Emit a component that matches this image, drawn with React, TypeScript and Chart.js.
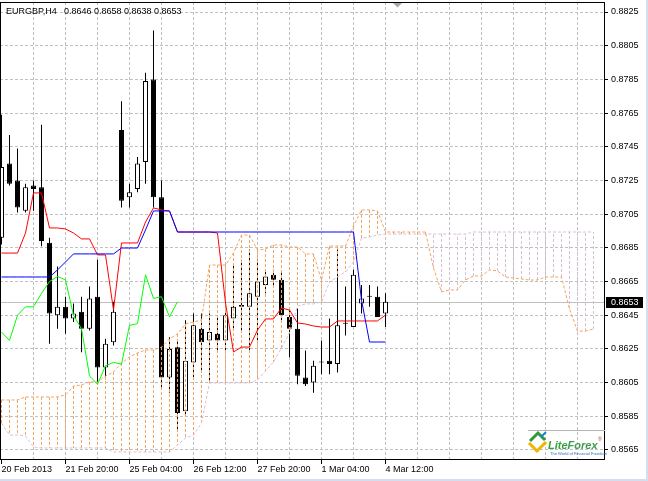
import React, { useEffect, useRef } from 'react';
import { Chart, registerables } from 'chart.js';

Chart.register(...registerables);

const symbol = 'EURGBP';
const period = 'H4';

// Candles, bar index 0 = 20 Feb 2013 12:00 (H4)
const opens = [0.8691,0.8735,0.8725,0.8707,0.8722,0.8721,0.8688,0.8645,0.8650,0.8643,0.8647,0.8637,0.8656,0.8614,0.8629,0.8755,0.8715,0.8720,0.8736,0.8785,0.8715,0.8608,0.8626,0.8588,0.8617,0.8637,0.8630,0.8634,0.8630,0.8643,0.8651,0.8650,0.8656,0.8663,0.8669,0.8666,0.8644,0.8637,0.8608,0.8605,0.8617,0.8618,0.8616,0.8640,0.8638,0.8652,0.8656,0.8656,0.8646];
const highs = [0.8764,0.8752,0.8744,0.8723,0.8725,0.8758,0.8691,0.8674,0.8656,0.8652,0.8656,0.8662,0.8678,0.8631,0.8653,0.8772,0.8723,0.8739,0.8789,0.8814,0.8725,0.8632,0.8630,0.8642,0.8646,0.8646,0.8646,0.8645,0.8647,0.8675,0.8678,0.8684,0.8678,0.8672,0.8672,0.8671,0.8649,0.8649,0.8624,0.8618,0.8630,0.8643,0.8684,0.8662,0.8672,0.8663,0.8663,0.8662,0.8658];
const lows = [0.8687,0.8722,0.8706,0.8706,0.8707,0.8686,0.8628,0.8637,0.8634,0.8641,0.8623,0.8636,0.8604,0.8607,0.8627,0.8709,0.8709,0.8718,0.8723,0.8709,0.8601,0.8599,0.8576,0.8585,0.8607,0.8611,0.8605,0.8624,0.8624,0.8636,0.8636,0.8623,0.8630,0.8658,0.8662,0.8642,0.8620,0.8604,0.8603,0.8599,0.8610,0.8610,0.8611,0.8633,0.8638,0.8646,0.8650,0.8644,0.8638];
const closes = [0.8733,0.8723,0.8709,0.8721,0.8720,0.8689,0.8646,0.8650,0.8643,0.8646,0.8637,0.8655,0.8614,0.8628,0.8647,0.8713,0.8718,0.8735,0.8784,0.8715,0.8608,0.8625,0.8587,0.8618,0.8639,0.8629,0.8635,0.8630,0.8645,0.8650,0.8650,0.8658,0.8665,0.8668,0.8666,0.8645,0.8637,0.8609,0.8604,0.8615,0.8617,0.8616,0.8639,0.8640,0.8669,0.8655,0.8656,0.8644,0.8653];

// Ichimoku lines
const tenkan = [0.86819,0.86819,0.86819,0.86938,0.87176,0.87176,0.86968,0.86968,0.86962,0.86938,0.86903,0.86903,0.86808,0.86808,0.86481,0.86879,0.86879,0.86879,0.87003,0.87087,0.87075,0.87069,0.86944,0.86944,0.86944,0.86944,0.86944,0.86938,0.86523,0.86232,0.86261,0.86261,0.86362,0.86428,0.86428,0.86493,0.86481,0.86404,0.86398,0.86386,0.86380,0.86380,0.86416,0.86416,0.86416,0.86416,0.86416,0.86416,0.86451];
const kijun = [0.86677,0.86677,0.86677,0.86677,0.86677,0.86677,0.86677,0.86719,0.86766,0.86814,0.86814,0.86814,0.86814,0.86814,0.86814,0.86849,0.86849,0.86849,0.86956,0.87069,0.87069,0.87069,0.86944,0.86944,0.86944,0.86944,0.86944,0.86944,0.86944,0.86944,0.86944,0.86944,0.86944,0.86944,0.86944,0.86944,0.86944,0.86944,0.86944,0.86944,0.86944,0.86944,0.86944,0.86944,0.86944,0.86540,0.86291,0.86291,0.86291];
const chikou = [0.8635,0.8630,0.8645,0.8650,0.8650,0.8658,0.8665,0.8668,0.8666,0.8645,0.8637,0.8609,0.8604,0.8615,0.8617,0.8616,0.8639,0.8640,0.8669,0.8655,0.8656,0.8644,0.8653];
const senkouA = [0.85947,0.85947,0.85947,0.85965,0.85965,0.85965,0.85965,0.85965,0.85977,0.86030,0.86036,0.86054,0.86054,0.86089,0.86113,0.86166,0.86202,0.86226,0.86244,0.86244,0.86261,0.86309,0.86339,0.86398,0.86410,0.86422,
  0.86748,0.86748,0.86748,0.86819,0.86926,0.86926,0.86837,0.86843,0.86867,0.86867,0.86855,0.86855,0.86814,0.86814,0.86659,0.86861,0.86861,0.86861,0.86980,0.87075,0.87075,0.87069,0.86944,0.86944,0.86944,0.86944,0.86944,0.86944,0.86730,0.86588,0.86600,0.86600,0.86659,0.86683,0.86683,0.86719,0.86713,0.86677,0.86671,0.86665,0.86659,0.86659,0.86677,0.86677,0.86677,0.86487,0.86356,0.86356,0.86368];
const senkouB = [0.85810,0.85739,0.85739,0.85733,0.85668,0.85662,0.85662,0.85662,0.85662,0.85662,0.85662,0.85662,0.85662,0.85662,0.85638,0.85638,0.85638,0.85638,0.85638,0.85638,0.85638,0.85638,0.85680,0.85721,0.85739,0.85810,
  0.86048,0.86048,0.86048,0.86048,0.86048,0.86048,0.86066,0.86119,0.86172,0.86256,0.86345,0.86505,0.86517,0.86517,0.86529,0.86647,0.86677,0.86707,0.86766,0.86908,0.86914,0.86926,0.86932,
  0.86932,0.86932,0.86932,0.86932,0.86932,0.86932,0.86932,0.86932,0.86932,0.86932,
  0.86944,0.86944,0.86944,0.86944,0.86944,0.86944,0.86944,0.86944,0.86944,0.86944,0.86944,0.86944,0.86944,0.86944,0.86944,0.86944];

// Axes
const dateTickBars = [0, 8, 16, 24, 32, 40, 48];
const dateTickLabels = ['20 Feb 2013', '21 Feb 20:00', '25 Feb 04:00', '26 Feb 12:00', '27 Feb 20:00', '1 Mar 04:00', '4 Mar 12:00'];
const gridBars = [0, 4, 8, 12, 16, 20, 24, 28, 32, 36, 40, 44, 48, 52, 56, 60, 64, 68, 72];
const priceTicks = [0.8565, 0.8585, 0.8605, 0.8625, 0.8645, 0.8665, 0.8685, 0.8705, 0.8725, 0.8745, 0.8765, 0.8785, 0.8805, 0.8825];

const X_MIN = -0.1875;
const X_MAX = 75.4375;
const Y_MIN = 0.855906;
const Y_MAX = 0.883094;

const FONT = '"Liberation Sans", Arial, sans-serif';

export default function App() {
  const ref = useRef<HTMLCanvasElement>(null);

  useEffect(() => {
    const canvas = ref.current;
    if (!canvas) return;
    const last = closes.length - 1;
    const bid = closes[last];

    const wickData = highs.map((h, i) => ({ x: i, y: [lows[i], h] }));
    const bodyData = opens.map((o, i) => ({ x: i, y: [o, closes[i]] }));
    const bodyFill = opens.map((o, i) => (closes[i] > o ? '#ffffff' : '#000000'));
    const pts = (arr: number[]) => arr.map((v, i) => ({ x: i, y: v }));

    const hatchUp: any[] = [];
    const hatchDown: any[] = [];
    senkouA.forEach((a, i) => {
      const b = senkouB[i];
      const t = a >= b ? hatchUp : hatchDown;
      t.push({ x: i, y: a }, { x: i, y: b }, { x: i, y: null });
    });

    const lineDs = (label: string, data: any[], color: string, order: number, dash: number[] = []) => ({
      type: 'line',
      label,
      data,
      borderColor: color,
      backgroundColor: color,
      borderWidth: 1,
      pointRadius: 0,
      pointHoverRadius: 0,
      tension: 0,
      fill: false,
      spanGaps: false,
      borderDash: dash,
      borderCapStyle: 'butt',
      order,
    });

    const decor = {
      id: 'decor',
      beforeDatasetsDraw(chart: any) {
        const { ctx, chartArea: ca, scales } = chart;
        const py = Math.round(scales.y.getPixelForValue(bid)) + 0.5;
        ctx.save();
        ctx.strokeStyle = '#c0c0c0';
        ctx.lineWidth = 1;
        ctx.beginPath();
        ctx.moveTo(ca.left, py);
        ctx.lineTo(ca.right, py);
        ctx.stroke();
        ctx.restore();
      },
      afterDraw(chart: any) {
        const { ctx, chartArea: ca, scales } = chart;
        ctx.save();
        // frame
        ctx.strokeStyle = '#000';
        ctx.lineWidth = 1;
        ctx.strokeRect(ca.left + 0.5, ca.top + 0.5, ca.right - ca.left - 1, ca.bottom - ca.top - 1);
        // shift marker
        ctx.fillStyle = '#a8a8a8';
        ctx.beginPath();
        ctx.moveTo(393, 3);
        ctx.lineTo(402, 3);
        ctx.lineTo(397.5, 7.5);
        ctx.closePath();
        ctx.fill();
        // title
        ctx.fillStyle = '#000';
        ctx.font = `9px ${FONT}`;
        ctx.textBaseline = 'alphabetic';
        ctx.textAlign = 'left';
        ctx.fillText(`${symbol},${period}`, 6, 14);
        ctx.fillText(
          [opens[last], highs[last], lows[last], closes[last]].map((v) => v.toFixed(4)).join(' '),
          64,
          14
        );
        // bid label
        const py = Math.round(scales.y.getPixelForValue(bid));
        ctx.fillStyle = '#000';
        ctx.fillRect(606, py - 5, 37, 11);
        ctx.fillStyle = '#fff';
        ctx.textBaseline = 'middle';
        ctx.fillText(bid.toFixed(4), 611, py + 0.5);
        // logo
        ctx.strokeStyle = '#b4b4b4';
        ctx.beginPath();
        ctx.moveTo(528, 430.5);
        ctx.lineTo(ca.right, 430.5);
        ctx.stroke();
        ctx.lineWidth = 3;
        ctx.lineJoin = 'miter';
        ctx.strokeStyle = '#efb500';
        ctx.beginPath();
        ctx.moveTo(529, 443);
        ctx.lineTo(537, 451);
        ctx.lineTo(546, 442);
        ctx.stroke();
        ctx.strokeStyle = '#2e9b3a';
        ctx.beginPath();
        ctx.moveTo(530, 441);
        ctx.lineTo(538, 433);
        ctx.lineTo(545, 440);
        ctx.stroke();
        ctx.lineWidth = 2;
        ctx.strokeStyle = '#1c7fd0';
        ctx.beginPath();
        ctx.moveTo(541, 437);
        ctx.lineTo(546, 432);
        ctx.stroke();
        ctx.textBaseline = 'alphabetic';
        ctx.font = `italic bold 11px ${FONT}`;
        ctx.fillStyle = '#34a53a';
        ctx.fillText('Lite', 548, 449);
        const w = ctx.measureText('Lite').width;
        ctx.fillStyle = '#3f9d4c';
        ctx.fillText('Forex', 548 + w, 449);
        ctx.font = `5px ${FONT}`;
        ctx.fillStyle = '#c03030';
        ctx.fillText('®', 598, 441);
        ctx.font = `4px ${FONT}`;
        ctx.fillStyle = '#3070c0';
        ctx.fillText('The World of Financial Freedom', 550, 455);
        // window frame
        ctx.fillStyle = '#d3dff0';
        ctx.fillRect(646, 0, 2, 481);
        ctx.fillRect(0, 479, 648, 2);
        ctx.restore();
      },
    };

    const chart = new Chart(canvas, {
      type: 'bar',
      data: {
        datasets: [
          lineDs('Kijun-sen', pts(kijun), '#0000ff', 1),
          lineDs('Tenkan-sen', pts(tenkan), '#ff0000', 2),
          lineDs('Chikou Span', pts(chikou), '#00ff00', 3),
          lineDs('Senkou Span A', pts(senkouA), '#f4a460', 4, [3, 2]),
          lineDs('Senkou Span B', pts(senkouB), '#d8bfd8', 5, [3, 2]),
          lineDs('Cloud up', hatchUp, '#f4a460', 6, [3, 2]),
          lineDs('Cloud down', hatchDown, '#d8bfd8', 7, [3, 2]),
          {
            type: 'bar',
            label: 'Body',
            data: bodyData,
            backgroundColor: bodyFill,
            borderColor: '#000000',
            borderWidth: 1,
            borderSkipped: false,
            barThickness: 5,
            maxBarThickness: 5,
            minBarLength: 1,
            grouped: false,
            inflateAmount: 0,
            order: 8,
          },
          {
            type: 'bar',
            label: 'Wick',
            data: wickData,
            backgroundColor: '#000000',
            borderWidth: 0,
            barThickness: 1,
            maxBarThickness: 1,
            grouped: false,
            inflateAmount: 0,
            order: 9,
          },
        ] as any,
      },
      options: {
        responsive: false,
        animation: false,
        devicePixelRatio: 1,
        layout: { padding: { top: 2, left: 0, right: 0, bottom: 0 } },
        plugins: {
          legend: { display: false },
          tooltip: { enabled: false },
          title: { display: false },
        },
        events: [],
        scales: {
          x: {
            type: 'linear',
            min: X_MIN,
            max: X_MAX,
            offset: false,
            afterBuildTicks: (s: any) => {
              s.ticks = gridBars.map((v) => ({ value: v }));
            },
            afterFit: (s: any) => {
              s.height = 21;
              s.paddingLeft = 0;
              s.paddingRight = 0;
            },
            ticks: {
              autoSkip: false,
              maxRotation: 0,
              minRotation: 0,
              align: 'start',
              padding: 0,
              color: '#000',
              font: { family: FONT, size: 9 },
              callback: (v: any) => {
                const k = dateTickBars.indexOf(Number(v));
                return k >= 0 ? dateTickLabels[k] : '';
              },
            },
            grid: {
              offset: false,
              drawTicks: true,
              tickLength: 4,
              lineWidth: 1,
              tickWidth: 1,
              color: (c: any) => (c.tick && c.tick.value === 0 ? 'rgba(0,0,0,0)' : '#c0c0c0'),
              tickColor: (c: any) =>
                c.tick && dateTickBars.includes(c.tick.value) ? '#000' : 'rgba(0,0,0,0)',
            },
            border: { display: false, dash: [3, 2] },
          },
          y: {
            type: 'linear',
            position: 'right',
            min: Y_MIN,
            max: Y_MAX,
            afterBuildTicks: (s: any) => {
              s.ticks = priceTicks.map((v) => ({ value: v }));
            },
            afterFit: (s: any) => {
              s.width = 43;
              s.paddingTop = 0;
              s.paddingBottom = 0;
            },
            ticks: {
              autoSkip: false,
              padding: 3,
              color: '#000',
              font: { family: FONT, size: 9 },
              callback: (v: any) => Number(v).toFixed(4),
            },
            grid: {
              color: '#c0c0c0',
              lineWidth: 1,
              drawTicks: true,
              tickLength: 3,
              tickWidth: 1,
              tickColor: '#000',
            },
            border: { display: false, dash: [3, 2] },
          },
        },
      } as any,
      plugins: [decor],
    });

    return () => chart.destroy();
  }, []);

  return (
    <div style={{ position: 'fixed', left: 0, top: 0, width: 648, height: 481, background: '#fff' }}>
      <canvas ref={ref} width={648} height={481} style={{ display: 'block', width: 648, height: 481 }} />
    </div>
  );
}
